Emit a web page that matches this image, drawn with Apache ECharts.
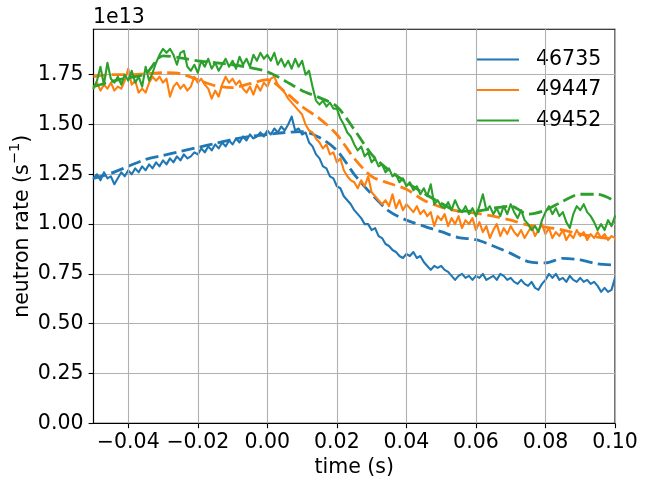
<!DOCTYPE html>
<html><head><meta charset="utf-8">
<script src="https://cdn.jsdelivr.net/npm/echarts@6/dist/echarts.min.js"></script>
<style>html,body{margin:0;padding:0;background:#fff}#c{width:647px;height:479px}</style>
</head><body><div id="c"></div>
<script>
const shots = ['46735', '49447', '49452'];
const colors = ['#1f77b4', '#ff7f0e', '#2ca02c'];
const xTicks = [-0.04, -0.02, 0, 0.02, 0.04, 0.06, 0.08, 0.10];
const yTicks = [0, 0.25, 0.5, 0.75, 1, 1.25, 1.5, 1.75];

// measured neutron rate (units of 1e13 s^-1), sampled every 1 ms from -0.050 s
const measStart = -0.05, measStep = 0.001;
const meas46735 = [
  1.23,1.25,1.22,1.26,1.23,1.24,1.20,1.23,1.26,1.24,
  1.27,1.25,1.28,1.26,1.29,1.27,1.30,1.28,1.31,1.29,
  1.32,1.30,1.33,1.31,1.34,1.32,1.35,1.33,1.34,1.36,
  1.35,1.38,1.36,1.39,1.37,1.40,1.38,1.41,1.39,1.42,
  1.40,1.43,1.41,1.44,1.42,1.45,1.43,1.44,1.46,1.44,
  1.47,1.45,1.48,1.46,1.49,1.47,1.50,1.54,1.47,1.48,
  1.45,1.46,1.41,1.39,1.35,1.33,1.29,1.28,1.24,1.23,
  1.19,1.18,1.14,1.12,1.10,1.07,1.05,1.03,1.00,1.00,
  0.97,0.98,0.94,0.93,0.90,0.89,0.87,0.86,0.84,0.83,
  0.85,0.84,0.86,0.83,0.84,0.81,0.79,0.77,0.79,0.78,
  0.79,0.77,0.76,0.74,0.72,0.74,0.75,0.73,0.74,0.72,
  0.74,0.73,0.75,0.72,0.73,0.74,0.72,0.75,0.74,0.72,
  0.73,0.71,0.70,0.72,0.70,0.69,0.71,0.68,0.67,0.70,
  0.72,0.75,0.73,0.75,0.72,0.73,0.71,0.74,0.72,0.71,
  0.73,0.71,0.72,0.70,0.71,0.69,0.66,0.68,0.66,0.67,
  0.73
];
const meas49447 = [
  1.69,1.71,1.67,1.70,1.68,1.71,1.67,1.69,1.68,1.72,
  1.78,1.70,1.72,1.66,1.68,1.66,1.71,1.74,1.72,1.74,
  1.71,1.73,1.64,1.69,1.71,1.68,1.70,1.67,1.69,1.74,
  1.71,1.73,1.70,1.68,1.63,1.67,1.64,1.70,1.74,1.71,
  1.73,1.70,1.72,1.68,1.66,1.69,1.65,1.70,1.67,1.71,
  1.69,1.73,1.74,1.70,1.68,1.66,1.63,1.61,1.59,1.57,
  1.55,1.50,1.47,1.46,1.43,1.41,1.38,1.40,1.35,1.36,
  1.31,1.33,1.27,1.24,1.22,1.21,1.18,1.22,1.19,1.24,
  1.16,1.14,1.12,1.10,1.12,1.09,1.15,1.08,1.12,1.07,
  1.10,1.08,1.06,1.09,1.05,1.07,1.04,1.06,0.99,1.04,
  1.02,1.05,0.99,1.03,1.00,1.04,0.98,1.02,1.00,1.03,
  0.97,1.01,0.96,0.99,0.93,0.97,1.00,0.94,0.98,0.95,
  0.99,0.96,0.94,0.97,0.93,0.96,0.99,0.94,0.97,1.00,
  0.95,0.98,0.93,0.96,0.94,0.97,0.92,0.95,0.93,0.97,
  0.94,0.96,0.92,0.95,0.93,0.96,0.93,0.95,0.92,0.94,
  0.93
];
const meas49452 = [
  1.68,1.72,1.79,1.70,1.81,1.73,1.71,1.74,1.70,1.75,
  1.72,1.77,1.71,1.74,1.69,1.79,1.72,1.76,1.81,1.85,
  1.88,1.86,1.88,1.85,1.80,1.86,1.87,1.79,1.77,1.80,
  1.76,1.82,1.79,1.83,1.78,1.81,1.77,1.80,1.83,1.79,
  1.82,1.78,1.84,1.80,1.83,1.79,1.85,1.82,1.86,1.83,
  1.85,1.82,1.86,1.80,1.83,1.79,1.82,1.78,1.83,1.79,
  1.82,1.75,1.77,1.69,1.62,1.60,1.62,1.59,1.61,1.58,
  1.58,1.53,1.50,1.46,1.44,1.40,1.37,1.39,1.34,1.36,
  1.31,1.33,1.29,1.30,1.26,1.28,1.24,1.25,1.21,1.23,
  1.19,1.21,1.17,1.19,1.15,1.18,1.14,1.20,1.10,1.12,
  1.09,1.08,1.11,1.07,1.12,1.08,1.06,1.09,1.05,1.08,
  1.04,1.09,1.15,1.07,1.09,1.05,1.08,1.04,1.09,1.05,
  1.10,1.06,1.03,1.07,1.02,1.00,0.97,0.99,0.96,1.02,
  1.06,1.09,1.05,1.08,1.04,1.06,1.01,0.98,1.05,1.09,
  1.07,1.10,1.06,1.04,1.01,0.97,1.00,0.97,1.02,0.99,
  1.04
];

// modelled neutron rate (dashed), sampled every 5 ms from -0.050 s
const modelStart = -0.05, modelStep = 0.005;
const model46735 = [1.23,1.255,1.29,1.325,1.345,1.365,1.385,1.405,1.425,1.44,1.45,1.46,1.464,1.435,1.37,1.25,1.15,1.065,1.02,0.99,0.962,0.932,0.922,0.89,0.853,0.812,0.805,0.828,0.82,0.80,0.795];
const model49447 = [1.74,1.75,1.75,1.755,1.76,1.755,1.725,1.695,1.685,1.705,1.725,1.665,1.59,1.53,1.45,1.33,1.24,1.205,1.175,1.12,1.085,1.065,1.055,1.04,1.02,0.995,0.985,0.97,0.95,0.935,0.925];
const model49452 = [1.69,1.715,1.735,1.755,1.845,1.835,1.82,1.81,1.80,1.785,1.765,1.72,1.67,1.635,1.59,1.475,1.35,1.27,1.21,1.155,1.105,1.065,1.065,1.08,1.09,1.05,1.07,1.115,1.15,1.15,1.115];

const measured = [meas46735, meas49447, meas49452];
const modelled = [model46735, model49447, model49452];

function toPairs(arr, start, step) {
  return arr.map((v, i) => [+(start + i * step).toFixed(4), v]);
}

const FONT = 'DejaVu Sans';
const FS = 20.5;
const GRID = '#b0b0b0';
const series = [];
// vertical grid lines at the x tick positions
series.push({
  type: 'line', name: '_grid', data: [], silent: true, z: 1,
  markLine: {
    silent: true, symbol: ['none', 'none'], label: { show: false }, animation: false,
    lineStyle: { color: GRID, width: 1.1, type: 'solid' },
    emphasis: { disabled: true },
    data: xTicks.map(v => ({ xAxis: v }))
  }
});
shots.forEach((s, k) => {
  series.push({
    type: 'line', name: s, data: toPairs(measured[k], measStart, measStep),
    showSymbol: false, symbol: 'none', color: colors[k],
    lineStyle: { width: 2.1, color: colors[k], join: 'round', cap: 'round' },
    z: 2 + k * 2, silent: true
  });
  series.push({
    type: 'line', name: s + ' model', data: toPairs(modelled[k], modelStart, modelStep),
    showSymbol: false, symbol: 'none', color: colors[k], smooth: 0.3,
    lineStyle: { width: 2.8, color: colors[k], type: [13, 5.5] },
    z: 3 + k * 2, silent: true
  });
});

const fmt = v => {
  const s = Math.abs(v).toFixed(2);
  return (v < -1e-9 ? '\u2212' : '') + s;
};

const chart = echarts.init(document.getElementById('c'), null, { renderer: 'canvas' });
chart.setOption({
  animation: false,
  backgroundColor: '#fff',
  grid: {
    left: 93.5, right: 32, top: 29.3, bottom: 55.7, containLabel: false, outerBoundsMode: 'none',
    show: true, borderColor: '#000', borderWidth: 1.1, backgroundColor: 'transparent'
  },
  legend: {
    data: shots, orient: 'vertical', left: 471, top: 44, icon: 'rect',
    itemWidth: 43, itemHeight: 2.2, itemGap: 9.5,
    textStyle: { fontSize: FS, fontFamily: FONT, color: '#000', padding: [0, 0, 0, 12], lineHeight: 21 }
  },
  xAxis: {
    type: 'value', min: -0.05, max: 0.10,
    name: 'time (s)', nameLocation: 'middle', nameGap: 34, nameMoveOverlap: false,
    nameTextStyle: { fontSize: FS, fontFamily: FONT, color: '#000' },
    axisLine: { show: true, onZero: false, lineStyle: { color: '#000', width: 1.1 } },
    axisTick: { show: true, inside: false, length: 4.9, customValues: xTicks, lineStyle: { color: '#000', width: 1.1 } },
    axisLabel: { customValues: xTicks, formatter: fmt, fontSize: FS, fontFamily: FONT, color: '#000', margin: 9 },
    splitLine: { show: false }
  },
  yAxis: {
    type: 'value', min: 0, max: 1.978, interval: 0.25,
    name: '{a|neutron rate (s}{b|\u22121}{a|)}', nameLocation: 'middle', nameGap: 60, nameMoveOverlap: false,
    nameTextStyle: {
      fontSize: FS, fontFamily: FONT, color: '#000',
      rich: {
        a: { fontSize: FS, fontFamily: FONT, color: '#000', lineHeight: 26, verticalAlign: 'bottom' },
        b: { fontSize: 14.5, fontFamily: FONT, color: '#000', lineHeight: 26, verticalAlign: 'top' }
      }
    },
    axisLine: { show: true, onZero: false, lineStyle: { color: '#000', width: 1.1 } },
    axisTick: { show: true, inside: false, length: 4.9, customValues: yTicks, lineStyle: { color: '#000', width: 1.1 } },
    axisLabel: { customValues: yTicks, formatter: v => v.toFixed(2), fontSize: FS, fontFamily: FONT, color: '#000', margin: 10 },
    splitLine: { show: true, lineStyle: { color: GRID, width: 1.1 } }
  },
  graphic: [{
    type: 'text', left: 93, top: 7,
    style: { text: '1e13', fontSize: FS, fontFamily: FONT, fill: '#000' }
  }],
  series: series
});
</script>
</body></html>
